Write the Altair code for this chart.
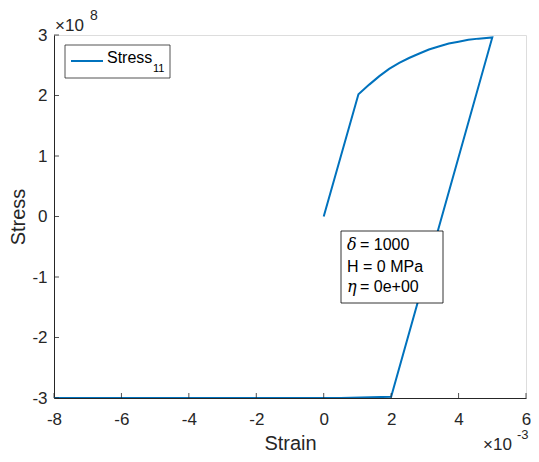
import altair as alt
import pandas as pd

# data (strain in units of 1e-3, stress in units of 1e8)
strain = [0.0, 1.03, 1.35, 1.65, 1.94, 2.24, 2.53, 2.82, 3.12, 3.41, 3.71, 4.0, 4.29, 4.59, 5.0,
          2.0, 0.5, -8.0]
stress = [0.0, 2.02, 2.18, 2.32, 2.44, 2.54, 2.62, 2.69, 2.76, 2.81, 2.86, 2.89, 2.92, 2.94, 2.96,
          -2.98, -3.0, -3.0]
x_ticks = [-8, -6, -4, -2, 0, 2, 4, 6]
y_ticks = [-3, -2, -1, 0, 1, 2, 3]

W, H = 472, 363
AX = "#262626"
BLUE = "#0072BD"
FONT = "Liberation Sans"

df = pd.DataFrame({"strain": strain, "stress": stress, "i": range(len(strain))})
one = pd.DataFrame({"a": [0]})

xs = alt.Scale(domain=[-8, 6], nice=False, zero=False)
ys = alt.Scale(domain=[-3, 3], nice=False, zero=False)

common = dict(ticks=False, tickSize=0, grid=False, labelFlush=False,
              labelExpr="'' + datum.value",
              domainColor=AX, labelColor=AX, titleColor=AX,
              labelFontSize=17, titleFontSize=20, labelFont=FONT, titleFont=FONT,
              titleFontWeight="normal")

line = alt.Chart(df).mark_line(color=BLUE, strokeWidth=2, clip=True).encode(
    x=alt.X("strain:Q", scale=xs,
            axis=alt.Axis(values=x_ticks, title="Strain", labelPadding=13, titlePadding=6, **common)),
    y=alt.Y("stress:Q", scale=ys,
            axis=alt.Axis(values=y_ticks, title="Stress", labelPadding=7, titlePadding=3, **common)),
    order="i:Q",
)

xt = alt.Chart(pd.DataFrame({"v": x_ticks})).mark_rule(color=AX, strokeWidth=0.8).encode(
    x=alt.X("v:Q", scale=xs), y=alt.value(H), y2=alt.value(H - 5))
yt = alt.Chart(pd.DataFrame({"v": y_ticks})).mark_rule(color=AX, strokeWidth=0.8).encode(
    y=alt.Y("v:Q", scale=ys), x=alt.value(0), x2=alt.value(5))

def txt(t, x, y, size=16, style="normal", font=FONT, align="left", baseline="middle", color="black"):
    return alt.Chart(one).mark_text(text=t, fontSize=size, fontStyle=style, font=font,
                                    align=align, baseline=baseline, color=color).encode(
        x=alt.value(x), y=alt.value(y))

# legend
leg_box = alt.Chart(one).mark_rect(fill="white", stroke=AX, strokeWidth=0.8).encode(
    x=alt.value(11), x2=alt.value(116), y=alt.value(10), y2=alt.value(43))
leg_line = alt.Chart(one).mark_rule(color=BLUE, strokeWidth=2).encode(
    x=alt.value(17), x2=alt.value(49), y=alt.value(26))
leg_t1 = txt("Stress", 53, 23, size=16)
leg_t2 = txt("11", 99, 34, size=11)

# annotation box
ann_box = alt.Chart(one).mark_rect(fill="white", stroke="black", strokeWidth=0.8).encode(
    x=alt.value(287), x2=alt.value(389), y=alt.value(196), y2=alt.value(268))
a1 = txt("δ", 293, 210, size=16, style="italic", font="DejaVu Serif")
a1b = txt("= 1000", 306, 210, size=16)
a2 = txt("H = 0 MPa", 293, 232, size=16)
a3 = txt("η", 293, 252, size=16, style="italic", font="DejaVu Serif")
a3b = txt("= 0e+00", 306, 252, size=16)

# multipliers
m1 = txt("×10", 1, -9, size=17, color=AX)
m1e = txt("8", 36, -19, size=14, color=AX)
m2 = txt("×10", 429, 410, size=17, color=AX)
m2e = txt("-3", 463, 400, size=13, color=AX)

chart = alt.layer(line, xt, yt, leg_box, leg_line, leg_t1, leg_t2,
                  ann_box, a1, a1b, a2, a3, a3b, m1, m1e, m2, m2e).properties(
    width=W, height=H,
    autosize=alt.AutoSizeParams(type="none"),
    padding={"left": 46, "top": 27, "right": 5, "bottom": 56},
).configure_view(stroke=None).configure(background="white")

chart.save("out.html", embed_options={"renderer": "svg", "actions": False})
